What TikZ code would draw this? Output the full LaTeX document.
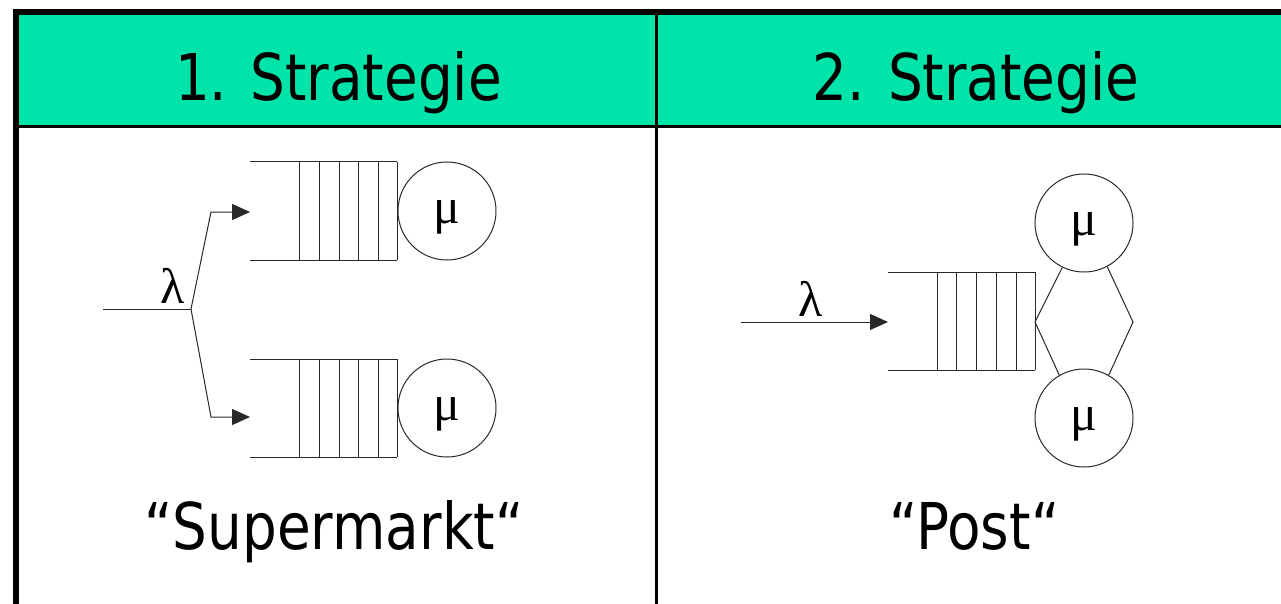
\documentclass[tikz,border=0pt]{standalone}
\usepackage{fontspec}
\setmainfont{DejaVu Sans}[FakeStretch=0.85]
\newfontfamily\grk{Liberation Serif}
\usetikzlibrary{arrows.meta}
\definecolor{hdrgreen}{RGB}{0,228,170}
\definecolor{ink}{RGB}{40,40,40}
\tikzset{
  frame/.style={line width=#1, black},
  hdrtext/.style={anchor=base, inner sep=0pt, font=\fontsize{64.5}{70}\selectfont},
  sym/.style={inner sep=0pt, font=\grk\fontsize{50}{54}\selectfont},
  server/.style={circle, draw=ink, line width=1pt, minimum size=98pt, inner sep=0pt,
    text height=30pt, text depth=5pt, font=\grk\fontsize{50}{54}\selectfont},
  qline/.style={draw=ink, line width=1pt},
  flow/.style={draw=ink, line width=1pt, -{Triangle[length=18pt,width=16pt]}},
  plain/.style={draw=ink, line width=1pt},
}
\begin{document}
\begin{tikzpicture}[x=1pt,y=-1pt]
\clip (0,0) rectangle (1281,604);
\fill[white] (0,0) rectangle (1281,604);
% header
\fill[hdrgreen] (16,12) rectangle (1290,126);
\draw[frame=3pt] (16,126.2) -- (1290,126.2);
\draw[frame=3pt] (656.3,12) -- (656.3,610);
\draw[frame=6pt] (13,12) -- (1290,12);
\draw[frame=6pt] (16,9) -- (16,610);
\node[hdrtext] (h1) at (338.5,101) {1. Strategie};
\node[hdrtext] (h2) at (976,101) {2. Strategie};
\node[hdrtext] (t1) at (334,549) {“Supermarkt“};
\node[hdrtext] (t2) at (974.5,549) {“Post“};

% ---- Strategy 1 ----
\coordinate (in1) at (103,309);
\coordinate (j) at (191,309);
\coordinate (bt) at (211,212);
\coordinate (bb) at (211,417);
\coordinate (qa) at (250,212);
\coordinate (qb) at (250,417);
\node[sym] (lam1) at (173,286) {λ};
\draw[plain] (in1) -- (j);
\draw[flow] (j) -- (bt) -- (qa);
\draw[flow] (j) -- (bb) -- (qb);
% queue A
\draw[qline] (250,162) -- (397,162);
\draw[qline] (250,260) -- (397,260);
\foreach \x in {299,319,339,358,378,397} \draw[qline] (\x,162) -- (\x,260);
\node[server] (s1) at (447,211) {μ};
% queue B
\draw[qline] (250,359) -- (397,359);
\draw[qline] (250,457) -- (397,457);
\foreach \x in {299,319,339,358,378,397} \draw[qline] (\x,359) -- (\x,457);
\node[server] (s2) at (447,408) {μ};

% ---- Strategy 2 ----
\coordinate (in2) at (741,322);
\coordinate (q2) at (888,322);
\node[sym] (lam2) at (811,298.5) {λ};
\draw[flow] (in2) -- (q2);
\draw[qline] (888,272) -- (1035,272);
\draw[qline] (888,370) -- (1035,370);
\foreach \x in {937,956,976,996,1016,1035} \draw[qline] (\x,272) -- (\x,370);
\node[server] (c1) at (1084,223) {μ};
\node[server] (c2) at (1084,418) {μ};
\coordinate (hl) at (1035,322);
\coordinate (hr) at (1133,322);
\draw[plain] (c1.-116) -- (hl) -- (c2.120);
\draw[plain] (c1.-62) -- (hr) -- (c2.60);
\end{tikzpicture}
\end{document}
